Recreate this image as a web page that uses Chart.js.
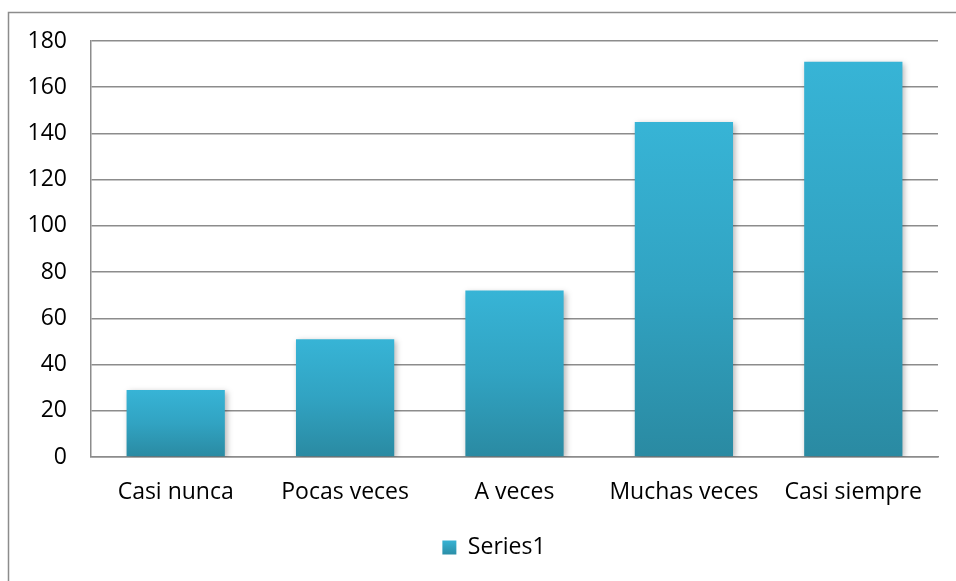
<!DOCTYPE html>
<html>
<head>
<meta charset="utf-8">
<script src="https://cdn.jsdelivr.net/npm/chart.js@4/dist/chart.umd.min.js"></script>
<style>
  html, body { margin: 0; padding: 0; background: #fff; }
  #wrap { width: 956px; height: 581px; position: relative; }
</style>
</head>
<body>
<div id="wrap"><canvas id="chart" width="956" height="581"></canvas></div>
<script>
// datos
const categorias = ['Casi nunca', 'Pocas veces', 'A veces', 'Muchas veces', 'Casi siempre'];
const serie1 = [29, 51, 72, 145, 171];
const yMin = 0;
const yMax = 180;
const yPaso = 20;

const FONT = '"Open Sans", Lato, sans-serif';

// degradado por barra (claro arriba, oscuro abajo)
function colorBarra(context) {
  const chart = context.chart;
  const y = chart.scales && chart.scales.y;
  if (!chart.chartArea || !y || context.parsed === undefined) return '#33aed0';
  const top = y.getPixelForValue(context.parsed.y);
  const bottom = y.getPixelForValue(0);
  if (!isFinite(top) || bottom - top < 1) return '#33aed0';
  const g = chart.ctx.createLinearGradient(0, top, 0, bottom);
  g.addColorStop(0, '#37b4d6');
  g.addColorStop(0.5, '#31a3c2');
  g.addColorStop(1, '#2a8aa2');
  return g;
}

// marco exterior, sombra de las barras y posición de la leyenda
const marco = {
  id: 'marco',
  afterLayout(chart) {
    // la leyenda del original está algo a la derecha del centro
    if (chart.legend) {
      chart.legend.left += 21;
      chart.legend.right += 21;
    }
  },
  beforeDraw(chart) {
    const ctx = chart.ctx;
    ctx.save();
    ctx.strokeStyle = '#8c8c8c';
    ctx.lineWidth = 1.5;
    ctx.beginPath();
    ctx.moveTo(8.5, 581);
    ctx.lineTo(8.5, 12.5);
    ctx.lineTo(956, 12.5);
    ctx.stroke();
    ctx.restore();
  },
  beforeDatasetDraw(chart) {
    const ctx = chart.ctx;
    ctx.save();
    ctx.shadowColor = 'rgba(0,0,0,0.3)';
    ctx.shadowBlur = 6;
    ctx.shadowOffsetX = 2;
    ctx.shadowOffsetY = 2;
  },
  afterDatasetDraw(chart) {
    chart.ctx.restore();
  }
};

new Chart(document.getElementById('chart'), {
  type: 'bar',
  data: {
    labels: categorias,
    datasets: [{
      label: 'Series1',
      data: serie1,
      backgroundColor: colorBarra,
      borderWidth: 0,
      categoryPercentage: 0.58,
      barPercentage: 1
    }]
  },
  options: {
    responsive: false,
    animation: false,
    layout: { padding: { left: 8, top: 41, right: 18, bottom: 12 } },
    plugins: {
      tooltip: { enabled: false },
      legend: {
        position: 'bottom',
        labels: {
          color: '#000',
          font: { family: FONT, size: 23 },
          boxWidth: 14,
          boxHeight: 14,
          padding: 9,
          generateLabels(chart) {
            const g = chart.ctx.createLinearGradient(0, 540, 0, 556);
            g.addColorStop(0, '#37b4d6');
            g.addColorStop(1, '#2a8aa2');
            return [{ text: 'Series1', fillStyle: g, strokeStyle: 'rgba(0,0,0,0)', lineWidth: 0, datasetIndex: 0 }];
          }
        }
      }
    },
    scales: {
      x: {
        grid: { display: false, drawTicks: false },
        border: { color: '#8c8c8c', width: 1.5 },
        ticks: { color: '#000', font: { family: FONT, size: 23 }, padding: 22 },
        afterFit(s) { s.height = 70; }
      },
      y: {
        min: yMin,
        max: yMax,
        grid: { color: '#8c8c8c', lineWidth: 1.5, drawTicks: false },
        border: { color: '#8c8c8c', width: 1.5 },
        ticks: { stepSize: yPaso, color: '#000', font: { family: FONT, size: 23 }, padding: 24 },
        afterFit(s) { s.width = 83; }
      }
    }
  },
  plugins: [marco]
});
</script>
</body>
</html>
